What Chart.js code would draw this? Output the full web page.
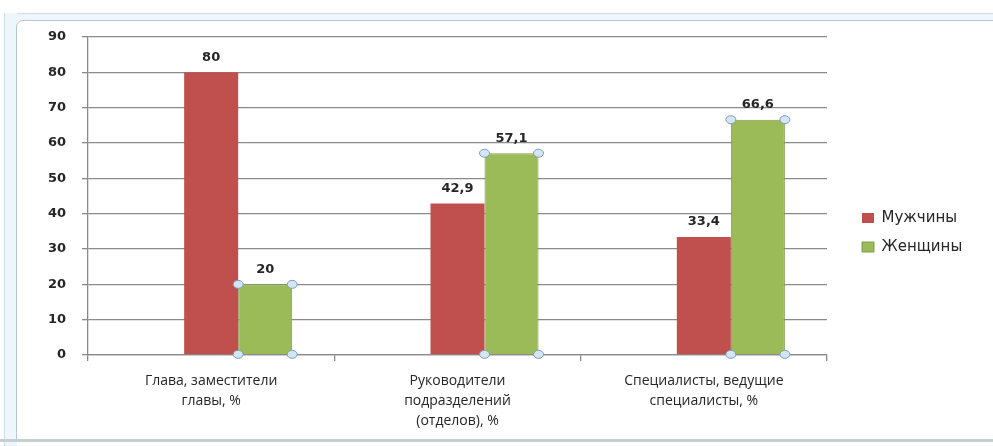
<!DOCTYPE html>
<html>
<head>
<meta charset="utf-8">
<script src="https://cdn.jsdelivr.net/npm/chart.js@4.4.1/dist/chart.umd.min.js"></script>
<style>
  html, body { margin: 0; padding: 0; background: #ffffff; }
  #wrap { position: relative; width: 993px; height: 446px; overflow: hidden; background: #fff; }
  .band-top { position: absolute; left: 4px; top: 13px; width: 989px; height: 7px; background: #eef5fb; border-top: 1px solid #cfdeec; }
  .band-left { position: absolute; left: 4px; top: 13px; width: 12px; height: 433px; background: #eef5fb; border-left: 1px solid #cfdeec; }
  .frame { position: absolute; left: 16px; top: 20px; width: 990px; height: 418px; border: 1px solid #b9c5d2; border-top-left-radius: 7px; background: #fff; }
  .bottom-line { position: absolute; left: 0; top: 439px; width: 993px; height: 3px; background: #c8cdd2; }
  canvas { position: absolute; left: 0; top: 0; }
</style>
</head>
<body>
<div id="wrap">
  <div class="band-top"></div>
  <div class="band-left"></div>
  <div class="frame"></div>
  <div class="bottom-line"></div>
  <canvas id="c" width="993" height="446"></canvas>
</div>
<script>
const categories = [
  ["Глава, заместители", "главы, %"],
  ["Руководители", "подразделений", "(отделов), %"],
  ["Специалисты, ведущие", "специалисты, %"]
];
const seriesNames = ["Мужчины", "Женщины"];
const men = [80, 42.9, 33.4];
const women = [20, 57.1, 66.6];
const spacer = [null, null, null];
const yTicks = { min: 0, max: 90, step: 10 };

const RED = "#C0504D";
const GREEN = "#9BBB59";

const fmt = v => String(v).replace(".", ",");

const valueLabels = {
  id: "valueLabels",
  afterDatasetsDraw(chart) {
    const ctx = chart.ctx;
    ctx.save();
    ctx.font = "bold 13px 'DejaVu Sans'";
    ctx.fillStyle = "#262626";
    ctx.textAlign = "center";
    ctx.textBaseline = "middle";
    chart.data.datasets.forEach((ds, di) => {
      if (!ds.showValues) return;
      const meta = chart.getDatasetMeta(di);
      meta.data.forEach((bar, i) => {
        const v = ds.data[i];
        if (v == null) return;
        ctx.fillText(fmt(v), bar.x, bar.y - 15);
      });
    });
    ctx.restore();
  }
};

const handles = {
  id: "handles",
  afterDatasetsDraw(chart) {
    const ctx = chart.ctx;
    chart.data.datasets.forEach((ds, di) => {
      if (!ds.selected) return;
      const meta = chart.getDatasetMeta(di);
      meta.data.forEach(bar => {
        const l = bar.x - bar.width / 2, r = bar.x + bar.width / 2;
        [[l, bar.y], [r, bar.y], [l, bar.base], [r, bar.base]].forEach(([px, py]) => {
          ctx.save();
          ctx.beginPath();
          ctx.ellipse(px, py, 5, 4, 0, 0, Math.PI * 2);
          ctx.fillStyle = "#d4e6f3";
          ctx.fill();
          ctx.lineWidth = 1;
          ctx.strokeStyle = "#7d9bb8";
          ctx.stroke();
          ctx.restore();
        });
      });
    });
  }
};

const legendPlace = {
  id: "legendPlace",
  afterInit(chart) {
    const lg = chart.legend;
    if (lg && !lg._patched) {
      const orig = lg.fit;
      lg.fit = function () { orig.call(this); this.width = 156; };
      lg._patched = true;
    }
  },
  afterLayout(chart) {
    const lg = chart.legend;
    if (!lg) return;
    lg.left = 848;
    lg.top = 185;
    lg.bottom = 280;
  }
};

new Chart(document.getElementById("c"), {
  type: "bar",
  data: {
    labels: categories,
    datasets: [
      { label: "", data: spacer, backgroundColor: "rgba(0,0,0,0)" },
      { label: seriesNames[0], data: men, backgroundColor: RED, borderWidth: 0, showValues: true },
      { label: seriesNames[1], data: women, backgroundColor: GREEN, borderColor: "#7f9c48", borderWidth: 1, showValues: true, selected: true }
    ]
  },
  options: {
    responsive: false,
    animation: false,
    devicePixelRatio: 1,
    layout: { padding: { top: 37, bottom: 10, left: 20, right: 10 } },
    datasets: { bar: { categoryPercentage: 0.658, barPercentage: 1 } },
    plugins: {
      legend: {
        position: "right",
        align: "center",
        labels: {
          boxWidth: 12,
          boxHeight: 10,
          padding: 14,
          color: "#262626",
          font: { family: "'DejaVu Sans'", size: 15 },
          filter: item => item.text !== ""
        }
      },
      tooltip: { enabled: false }
    },
    scales: {
      x: {
        afterFit: s => { s.height = 81; },
        grid: { drawOnChartArea: false, drawTicks: true, tickLength: 6, offset: true, color: "#8a8a8a", lineWidth: 1.3 },
        border: { display: true, color: "#8a8a8a", width: 1.3 },
        ticks: {
          padding: 10,
          color: "#262626",
          maxRotation: 0,
          autoSkip: false,
          font: { family: "'Open Sans'", size: 14, lineHeight: 1.42 }
        }
      },
      y: {
        min: yTicks.min,
        max: yTicks.max,
        afterFit: s => { s.width = 68; },
        grid: { color: "#8a8a8a", lineWidth: 1.3, tickLength: 6 },
        border: { display: true, color: "#8a8a8a", width: 1.3 },
        ticks: {
          stepSize: yTicks.step,
          padding: 16,
          color: "#262626",
          font: { family: "'DejaVu Sans'", size: 13, weight: "bold" }
        }
      }
    }
  },
  plugins: [valueLabels, handles, legendPlace]
});
</script>
</body>
</html>
